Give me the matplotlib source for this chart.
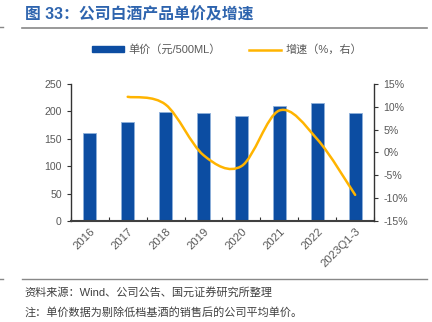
import numpy as np
import matplotlib
matplotlib.use("Agg")
import matplotlib.pyplot as plt
from matplotlib.path import Path
from matplotlib.patches import PathPatch, Patch
from matplotlib.lines import Line2D
from matplotlib.ticker import FuncFormatter, FixedLocator

plt.rcParams['font.family'] = ['Liberation Sans', 'Noto Sans CJK SC', 'DejaVu Sans']

years = ["2016", "2017", "2018", "2019", "2020", "2021", "2022", "2023Q1-3"]
price = [161, 180, 199, 198, 192, 210, 216, 198]
growth_years = [1, 2, 3, 4, 5, 6, 7]
growth = [12.2, 10.5, -0.6, -3.0, 9.2, 2.9, -9.3]

bar_color = "#0C4DA2"
line_color = "#FFB400"
grey = "#595959"


def smooth_path(xs, ys):
    # catmull-rom through the points, drawn as bezier segments (like excel smoothed lines)
    pts = np.column_stack([xs, ys]).astype(float)
    pad = np.vstack([pts[0], pts, pts[-1]])
    verts = [tuple(pts[0])]
    codes = [Path.MOVETO]
    for i in range(1, len(pad) - 2):
        p0, p1, p2, p3 = pad[i - 1], pad[i], pad[i + 1], pad[i + 2]
        c1 = p1 + (p2 - p0) / 6.0
        c2 = p2 - (p3 - p1) / 6.0
        verts += [tuple(c1), tuple(c2), tuple(p2)]
        codes += [Path.CURVE4] * 3
    return Path(verts, codes)


fig = plt.figure(figsize=(4.32, 3.22), dpi=100)
ax = fig.add_axes([0.164, 0.314, 0.702, 0.425])
x = np.arange(len(years))
ax.bar(x, price, width=0.34, color=bar_color, edgecolor="#8EB0DA", linewidth=0.6, zorder=2)
ax.set_xlim(-0.5, len(years) - 0.5)
ax.set_ylim(0, 250)
ax.set_yticks(range(0, 251, 50))
ax.set_xticks(x)
ax.set_xticklabels(years, rotation=45, ha="right", rotation_mode="anchor", fontsize=8.2, color=grey)
ax.tick_params(axis="x", which="major", length=0, pad=4)
ax.xaxis.set_minor_locator(FixedLocator(np.arange(-0.5, len(years), 1.0)))
ax.tick_params(axis="x", which="minor", direction="in", length=3, width=0.8, color="#333333")
ax.tick_params(axis="y", labelsize=7.6, labelcolor=grey, length=3, width=0.8, color="#333333")
for s in ["top", "right"]:
    ax.spines[s].set_visible(False)
ax.spines["left"].set_color("#333333")
ax.spines["left"].set_linewidth(1.0)
ax.spines["bottom"].set_color("#404040")
ax.spines["bottom"].set_linewidth(1.5)
ax.spines["bottom"].set_zorder(5)

ax2 = ax.twinx()
ax2.set_ylim(-15, 15)
ax2.set_yticks(range(-15, 16, 5))
ax2.yaxis.set_major_formatter(FuncFormatter(lambda v, p: "{:d}%".format(int(v))))
ax2.tick_params(axis="y", labelsize=7.6, labelcolor=grey, length=3, width=0.8, color="#333333")
for s in ["top", "left", "bottom"]:
    ax2.spines[s].set_visible(False)
ax2.spines["right"].set_color("#333333")
ax2.spines["right"].set_linewidth(1.0)
ax2.add_patch(PathPatch(smooth_path(growth_years, growth), fill=False,
                        edgecolor=line_color, linewidth=1.8, capstyle="round", zorder=3))

handles = [Patch(facecolor=bar_color, edgecolor=bar_color),
           Line2D([0], [0], color=line_color, linewidth=1.8)]
fig.legend(handles, ["单价（元/500ML）", "增速（%，右）"], loc="center",
           bbox_to_anchor=(0.525, 0.845), ncol=2, frameon=False, fontsize=8.0,
           handlelength=2.9, handleheight=0.5, columnspacing=2.5, handletextpad=0.4,
           labelcolor=grey)

fig.text(0.058, 0.953, "图 33：公司白酒产品单价及增速", fontsize=11.4, fontweight="bold",
         color="#2E64AE", va="center", ha="left")
fig.add_artist(Line2D([0.051, 0.988], [0.913, 0.913], color="#888888", linewidth=1.2))
fig.add_artist(Line2D([0.0, 0.008], [0.915, 0.915], color="#888888", linewidth=1.0))
fig.add_artist(Line2D([0.051, 0.988], [0.134, 0.134], color="#888888", linewidth=1.0))
fig.add_artist(Line2D([0.0, 0.008], [0.134, 0.134], color="#888888", linewidth=1.0))
fig.text(0.056, 0.093, "资料来源：Wind、公司公告、国元证券研究所整理", fontsize=8.0,
         color="#404040", va="center", ha="left")
fig.text(0.056, 0.031, "注：单价数据为剔除低档基酒的销售后的公司平均单价。", fontsize=8.0,
         color="#404040", va="center", ha="left")

fig.savefig("out.png", dpi=100)
